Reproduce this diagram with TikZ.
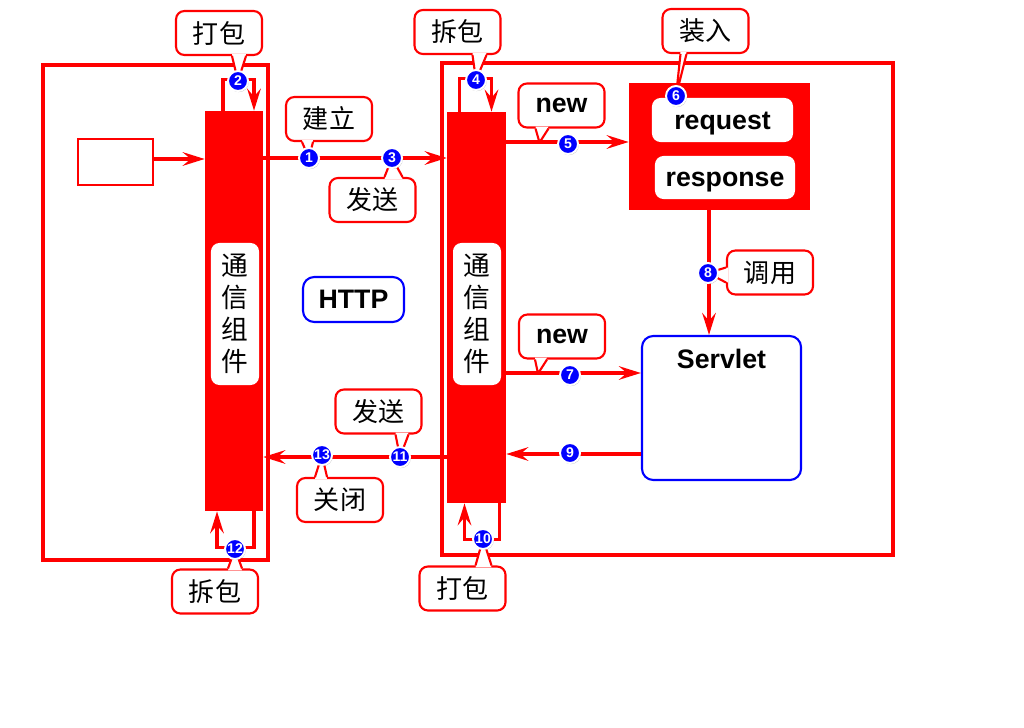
\documentclass[tikz,border=0pt]{standalone}
\usepackage{fontspec}
\setmainfont{Liberation Sans}
\newfontfamily\cjk{Noto Sans CJK SC}
\usetikzlibrary{positioning, calc, arrows.meta, shadows}
\tikzstyle{outerbox} = [rectangle, draw=red, line width=2.3pt]
\tikzstyle{redbar} = [rectangle, fill=red, inner sep=0pt]
\tikzstyle{vtag} = [rectangle, rounded corners=6pt, fill=white, inner sep=0pt, align=center, font=\cjk\fontsize{19}{22.7}\selectfont]
\tikzstyle{wbox} = [rectangle, rounded corners=6pt, fill=white, inner sep=0pt, text height=13.5pt, text depth=0pt, font=\bfseries\fontsize{19}{22}\selectfont]
\tikzstyle{bluebox} = [rectangle, rounded corners=8pt, draw=blue, line width=1.5pt, fill=white]
\tikzstyle{bubble} = [rectangle, rounded corners=6pt, draw=red, line width=1.5pt, fill=white, minimum width=2.15cm, minimum height=1.1cm, inner sep=2pt, font=\cjk\fontsize{18.5}{20}\selectfont]
\tikzstyle{bubline} = [draw=red, line width=1.5pt, line join=round]
\tikzstyle{arrow} = [draw=red, line width=2.3pt, -{Stealth[length=0.55cm, width=0.34cm, inset=0.2cm]}]
\tikzstyle{num} = [circle, fill=blue, draw=white, line width=1.4pt, minimum size=0.5cm, inner sep=0pt, text=white, font=\bfseries\fontsize{10}{10}\selectfont, drop shadow={shadow xshift=0.6pt, shadow yshift=-0.8pt, opacity=0.45}]
\newcommand{\bubtail}[5]{%
  \fill[white] ($(#1)+(#2)+(#5)$) -- (#4) -- ($(#1)+(#3)+(#5)$) -- cycle;
  \draw[bubline] ($(#1)+(#2)$) -- (#4) -- ($(#1)+(#3)$);}

\begin{document}
\begin{tikzpicture}[x=0.025cm, y=-0.025cm]
	\useasboundingbox (0,0) rectangle (1024,728);
	%两端外框
	\node (lbox) [outerbox, minimum width=5.625cm, minimum height=12.375cm] at (155.5,312.5) {};
	\node (rbox) [outerbox, minimum width=11.275cm, minimum height=12.3cm] at (667.5,309) {};
	\node (client) [rectangle, draw=red, line width=1.7pt, minimum width=1.875cm, minimum height=1.15cm] at (115.5,162) {};
	
	%通信组件
	\node (lbar) [redbar, minimum width=1.45cm, minimum height=10cm] at (234,311) {};
	\node (rbar) [redbar, minimum width=1.475cm, minimum height=9.775cm] at (476.5,307.5) {};
	\node (ltag) [vtag, minimum width=1.2cm, minimum height=3.55cm] at (235,314) {通\\信\\组\\件};
	\node (rtag) [vtag, minimum width=1.2cm, minimum height=3.55cm] at (477,314) {通\\信\\组\\件};
	
	%request / response / Servlet
	\node (reqbox) [redbar, minimum width=4.525cm, minimum height=3.175cm] at (719.5,146.5) {};
	\node (req) [wbox, minimum width=3.525cm, minimum height=1.1cm] at (722.5,120) {request};
	\node (resp) [wbox, minimum width=3.5cm, minimum height=1.075cm] at (725,177.5) {response};
	\node (servlet) [bluebox, minimum width=3.975cm, minimum height=3.6cm, label={[anchor=north, yshift=-0.22cm, font=\bfseries\fontsize{19}{22}\selectfont]north:Servlet}] at (721.5,408) {};
	\node (http) [bluebox, minimum width=2.525cm, minimum height=1.125cm, font=\bfseries\fontsize{19}{22}\selectfont] at (353.5,299.5) {HTTP};
	
	%连线高度
	\coordinate (y0) at (0,159);
	\coordinate (y1) at (0,158);
	\coordinate (y5) at (0,142);
	\coordinate (y7) at (0,373);
	\coordinate (y9) at (0,454);
	\coordinate (y11) at (0,457);
	\coordinate (x8) at (709,0);
	
	%连接
	\draw [arrow] (client.east |- y0) -- (lbar.west |- y0);
	\draw [arrow] (lbar.east |- y1) -- (rbar.west |- y1);
	\draw [arrow] ($(lbar.north)+(-11,0)$) -- ++(0,-31) -| ($(lbar.north)+(20,0)$);
	\draw [arrow] ($(rbar.north)+(-17,0)$) -- ++(0,-33) -| ($(rbar.north)+(15,0)$);
	\draw [arrow] (rbar.east |- y5) -- (reqbox.west |- y5);
	\draw [arrow] (reqbox.south -| x8) -- (servlet.north -| x8);
	\draw [arrow] (rbar.east |- y7) -- (servlet.west |- y7);
	\draw [arrow] (servlet.west |- y9) -- (rbar.east |- y9);
	\draw [arrow] (rbar.west |- y11) -- (lbar.east |- y11);
	\draw [arrow] ($(rbar.south)+(23,0)$) -- ++(0,36) -| ($(rbar.south)+(-12,0)$);
	\draw [arrow] ($(lbar.south)+(20,0)$) -- ++(0,36) -| ($(lbar.south)+(-17,0)$);
	
	%序号位置
	\coordinate (p1) at (309,158);
	\coordinate (p2) at (238,81);
	\coordinate (p3) at (392,158);
	\coordinate (p4) at (476,80);
	\coordinate (p6) at (676,96);
	\coordinate (p8) at (708,273);
	\coordinate (p10) at (483,539);
	\coordinate (p11) at (400,457);
	\coordinate (p12) at (235,549);
	\coordinate (p13) at (322,455);
	
	%说明
	\node (c1) [bubble] at (329,119) {建立};
	\node (c2) [bubble] at (219,33) {打包};
	\node (c3) [bubble] at (372.5,200) {发送};
	\node (c4) [bubble] at (457.5,32) {拆包};
	\node (c5) [bubble, font=\bfseries\fontsize{19}{22}\selectfont] at (561.5,105.5) {new};
	\node (c6) [bubble] at (705.5,31) {装入};
	\node (c7) [bubble, font=\bfseries\fontsize{19}{22}\selectfont] at (562,336.5) {new};
	\node (c8) [bubble] at (770,272.5) {调用};
	\node (c10) [bubble] at (462.5,588.5) {打包};
	\node (c11) [bubble] at (378.5,411.5) {发送};
	\node (c12) [bubble] at (215,591.5) {拆包};
	\node (c13) [bubble] at (340,500) {关闭};
	
	%气泡尖角
	\bubtail{c1.south}{-27,0}{-16,0}{p1}{0,-2}
	\bubtail{c2.south}{13,0}{27,0}{p2}{0,-2}
	\bubtail{c3.north}{12,0}{30,0}{p3}{0,2}
	\bubtail{c4.south}{15,0}{29,0}{p4}{0,-2}
	\bubtail{c5.south}{-26,0}{-13,0}{$(c5.south)+(-22,14)$}{0,-2}
	\bubtail{c6.south}{-25,0}{-19,0}{p6}{0,-2}
	\bubtail{c7.south}{-27,0}{-15,0}{$(c7.south)+(-24,14)$}{0,-2}
	\bubtail{c8.west}{0,-5}{0,10}{p8}{2,0}
	\bubtail{c10.north}{13,0}{29,0}{p10}{0,2}
	\bubtail{c11.south}{17,0}{30,0}{p11}{0,-2}
	\bubtail{c12.north}{13,0}{27,0}{p12}{0,2}
	\bubtail{c13.north}{-25,0}{-13,0}{p13}{0,2}
	
	%序号
	\node (m1) [num] at (p1) {1};
	\node (m2) [num] at (p2) {2};
	\node (m3) [num] at (p3) {3};
	\node (m4) [num] at (p4) {4};
	\node (m5) [num] at (568,144) {5};
	\node (m6) [num] at (p6) {6};
	\node (m7) [num] at (570,375) {7};
	\node (m8) [num] at (p8) {8};
	\node (m9) [num] at (570,453) {9};
	\node (m10) [num] at (p10) {10};
	\node (m11) [num] at (p11) {11};
	\node (m12) [num] at (p12) {12};
	\node (m13) [num] at (p13) {13};
\end{tikzpicture}
\end{document}
